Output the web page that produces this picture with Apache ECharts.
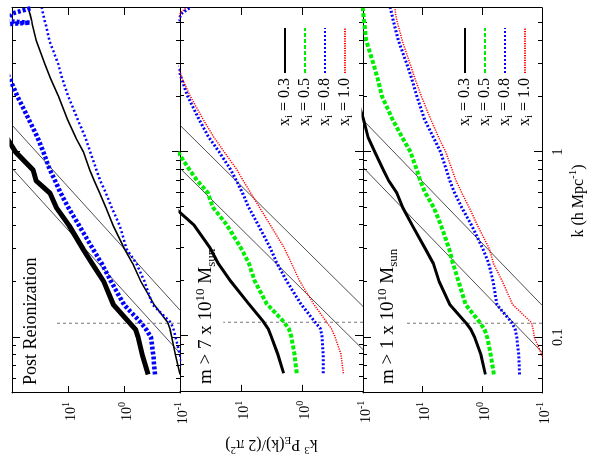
<!DOCTYPE html>
<html><head><meta charset="utf-8">
<script src="https://cdn.jsdelivr.net/npm/echarts@6/dist/echarts.min.js"></script>
<style>
html,body{margin:0;padding:0;background:#fff;overflow:hidden;width:599px;height:463px}
#c{position:absolute;left:0;top:0;width:463px;height:599px;transform-origin:0 0;transform:translate(0,463px) rotate(-90deg);background:#fff}
</style></head><body><div id="c"></div><script>
// ---- data (k in h/Mpc, P = k^3 P_E(k)/(2 pi^2)) ----
const K = [0.063,0.08,0.1,0.11,0.12,0.15,0.2,0.25,0.3,0.4,0.5,0.6,0.7,0.8,1.0,1.2,1.5,2,2.5,3,4,4.9,5,5.1,5.6,6];
// Panel 1: Post Reionization
const P1_THICK_BLACK = [0.37,0.47,0.56,0.62,0.8,1.55,2.3,3.7,5.4,9.5,16,21,37,42,86,125,null,null,null,null,null,null,null,null,null,null];
const P1_THICK_BLUE  = [0.28,0.30,0.33,0.4,0.5,1.0,1.7,2.5,3.6,6.3,9.8,13.5,17,21,27.5,35,50,80,110,150,160,130,48,130,100,45];
const P1_THIN_BLACK  = [0.1,0.12,0.14,0.15,0.165,0.29,0.5,0.7,0.98,1.55,2.1,2.7,3.4,4.1,5.3,7.3,10.2,14.8,20.5,26,37,43.5,44,44.5,48,51];
const P1_THIN_BLUE   = [0.085,0.1,0.12,0.13,0.145,0.31,0.43,0.6,0.9,1.19,1.65,2.1,2.65,3.1,4.0,4.9,6.7,9.9,12.7,15,21.5,25,25.5,26,28,29.5];
// Panel 2: m > 7e10 Msun
const P2_X03 = [2.0,2.5,3.2,3.6,4.3,7.5,15,24,32,59,125,null,null,null,null,null,null,null,null,null,null,null,null,null,null,null];
const P2_X05 = [1.22,1.33,1.5,1.65,2.0,3.8,6.0,7.5,10,17,29,35,53,70,110,null,null,null,null,null,null,null,null,null,null,null];
const P2_X08 = [0.45,0.45,0.47,0.5,0.62,1.05,1.8,2.6,3.3,5.2,7.5,9.5,12,14.8,23,34,49,75,95,115,130,120,110,105,95,70];
const P2_X10 = [0.21,0.23,0.29,0.33,0.4,0.65,1.1,1.5,1.95,3.3,5.0,7.0,9.3,11.7,19,28,42,68,93,115,130,120,110,108,100,80];
// Panel 3: m > 1e10 Msun
const P3_X03 = [0.89,1.05,1.35,1.55,1.9,3.5,5.3,6.6,9.0,14.8,21.5,27,37,45.5,63,82,98,130,null,null,null,null,null,null,null,null];
const P3_X05 = [0.64,0.72,0.83,0.92,1.1,1.9,2.5,3.1,3.6,4.9,6.5,9.0,11,12.5,16,22,32,48,57,67,88,95,95.5,96,99,101];
const P3_X08 = [0.238,0.245,0.265,0.28,0.32,0.57,0.66,0.78,0.98,1.5,2.2,2.9,3.5,4.0,5.0,6.6,9.3,12.5,15.3,18.5,25.5,30,30.5,31,33,35];
const P3_X10 = [0.08,0.1,0.135,0.14,0.15,0.31,0.46,0.65,0.76,1.2,1.65,2.2,2.75,3.2,4.1,5.4,7.3,10.5,13.5,16.3,22,26,26.5,27,28.5,29];
// shot-noise reference lines (endpoints) and k cut
const REF_P = [0.1, 100];
const REF_A_K = [[0.140,1.40],[0.145,1.39],[0.149,1.49]];
const REF_B_K = [[0.082,0.818],[0.0847,0.813],[0.083,0.828]];
const CUT_K = [0.119,0.119];
const CUT_P = [[0.1,17.5],[0.1,19.5],[0.1,18.5]];
// axis ticks
const K_MAJOR = [0.1,1];
const K_MINOR = [0.05,0.06,0.07,0.08,0.09,0.2,0.3,0.4,0.5,0.6,0.7,0.8,0.9,2,3,4,5];
const P_MAJOR = [1,10];
const P_LABELS = [0.1,1,10];
const XI = ['0.3','0.5','0.8','1.0'];
const PANEL_LABELS = ['Post Reionization','{n|m > 7 x 10}{s|10}{n| M}{b|sun}','{n|m > 1 x 10}{s|10}{n| M}{b|sun}'];

const FONT = "'Liberation Serif','Times New Roman',serif";
function rich(F){ const f=Math.round(F*0.7); return {
  n:{fontFamily:FONT,fontSize:F,lineHeight:F,padding:[3,0,0,0],verticalAlign:'top',color:'#000'},
  s:{fontFamily:FONT,fontSize:f,lineHeight:f,padding:[0,0,0,0],verticalAlign:'top',color:'#000'},
  b:{fontFamily:FONT,fontSize:f,lineHeight:f,padding:[Math.round(3+F*0.75-f/2),0,0,0],verticalAlign:'top',color:'#000'}
};}
function pts(ks, ps){ const o=[]; for(let i=0;i<ks.length;i++){ if(ps[i]!=null) o.push([ks[i],ps[i]]); } return o; }

const GRIDS = [{top:12,height:168},{top:180,height:183},{top:363,height:179}];
const grid = GRIDS.map(g=>({left:70,right:8,top:g.top,height:g.height,containLabel:false}));

const xAxis=[]; const yAxis=[];
for(let g=0; g<3; g++){
  const mk = (pos, vals, len, line, lbl) => ({
    type:'log', logBase:10, gridIndex:g, min:0.05, max:6, position:pos, offset:0,
    axisLine:{show:line, lineStyle:{color:'#000',width:1}},
    axisTick:{show:true, inside:true, length:len, customValues:vals, lineStyle:{color:'#000',width:1}},
    axisLabel:{show:lbl, customValues:K_MAJOR, fontFamily:FONT, fontSize:14, color:'#000', margin:9,
      formatter:v=>{ if(Math.abs(v-0.1)<1e-6) return '0.1'; if(Math.abs(v-1)<1e-6) return '1'; return ''; }},
    splitLine:{show:false}, minorTick:{show:false}, minorSplitLine:{show:false}
  });
  xAxis.push(mk('bottom', K_MAJOR, 8, true, g===2), mk('bottom', K_MINOR, 4, false, false), mk('top', K_MAJOR, 8, true, false), mk('top', K_MINOR, 4, false, false));
  const my = (pos, lbl) => ({
    type:'log', logBase:10, gridIndex:g, min:0.1, max:100, position:pos, offset:0,
    axisLine:{show:true, lineStyle:{color:'#000',width:1}},
    axisTick:{show:true, inside:true, length:7, customValues:P_MAJOR, lineStyle:{color:'#000',width:1}},
    axisLabel:{show:lbl, customValues:P_LABELS, margin:9, fontFamily:FONT, fontSize:14, color:'#000', rich:rich(14),
      formatter:v=>{ if(v>50) return ''; const e=Math.round(Math.log10(v)); return '{n|10}{s|'+e+'}'; }},
    splitLine:{show:false}, minorTick:{show:false}
  });
  const ly = my('left', true);
  if(g===1){ ly.name='{n|k}{s|3}{n| P}{b|E}{n|(k)/(2 π}{s|2}{n|)}'; ly.nameLocation='middle'; ly.nameRotate=90; ly.nameGap=37;
    ly.nameTextStyle={fontFamily:FONT,fontSize:16,color:'#000',rich:rich(16)}; }
  yAxis.push(ly, my('right', false));
}

const series=[];
function line(g, name, data, color, width, type, z){
  series.push({type:'line', name:name, xAxisIndex:4*g, yAxisIndex:2*g, data:data, showSymbol:false, symbol:'none',
    clip:true, z:z||2, lineStyle:{color:color, width:width, type:type, cap:'butt'}, itemStyle:{color:color}, emphasis:{disabled:true}});
}
for(let g=0; g<3; g++){
  line(g, 'refA'+g, [[REF_A_K[g][0],REF_P[0]],[REF_A_K[g][1],REF_P[1]]], '#222', 0.8, 'solid', 1);
  line(g, 'refB'+g, [[REF_B_K[g][0],REF_P[0]],[REF_B_K[g][1],REF_P[1]]], '#222', 0.8, 'solid', 1);
  line(g, 'cut'+g, [[CUT_K[0],CUT_P[g][0]],[CUT_K[1],CUT_P[g][1]]], '#777', 1, [3,3], 1);
}
line(0, 'p1 thin black', pts(K,P1_THIN_BLACK), '#000', 1.6, 'solid');
line(0, 'p1 thin blue', pts(K,P1_THIN_BLUE), '#0000ff', 2.5, [2,2.5]);
line(0, 'p1 thick blue', pts(K,P1_THICK_BLUE), '#0000ff', 4.5, [3,2]);
line(0, 'p1 thick black', pts(K,P1_THICK_BLACK), '#000', 5, 'solid');
const NAMES = XI.map(x=>'xi='+x);
const STY = [['#000',3,'solid'],['#00ee00',4,[4,2]],['#0000ff',3,[2,2]],['#ff0000',1.5,[1.2,1.2]]];
[[P2_X03,P2_X05,P2_X08,P2_X10],[P3_X03,P3_X05,P3_X08,P3_X10]].forEach((arrs,j)=>{
  arrs.forEach((a,i)=>line(j+1, NAMES[i], pts(K,a), STY[i][0], STY[i][1], STY[i][2], 3+i));
});

const LEG_RICH = {
  n:{fontFamily:FONT,fontSize:16,lineHeight:16,padding:[0,0,0,0],verticalAlign:'top',color:'#000'},
  b:{fontFamily:FONT,fontSize:11,lineHeight:11,padding:[7,0,0,0],verticalAlign:'top',color:'#000'}
};
const legendBase = {orient:'vertical', right:27, itemWidth:45, itemHeight:14, itemGap:2, align:'right', padding:0,
  selectedMode:false, data:NAMES, itemStyle:{opacity:0},
  formatter:n=>'{n|x}{b|i}{n| = '+n.slice(3)+'}',
  textStyle:{fontFamily:FONT,fontSize:16,color:'#000',rich:LEG_RICH}};

const option = {
  animation:false, backgroundColor:'#fff',
  grid:grid, xAxis:xAxis, yAxis:yAxis, series:series,
  legend:[Object.assign({top:277},legendBase), Object.assign({top:457},legendBase)],
  title:[
    {text:PANEL_LABELS[0], left:78, top:22, padding:0, textStyle:{fontFamily:FONT,fontSize:18,fontWeight:'normal',color:'#000'}},
    {text:PANEL_LABELS[1], left:79, top:194, padding:0, textStyle:{fontFamily:FONT,fontSize:19,fontWeight:'normal',color:'#000',rich:rich(19)}},
    {text:PANEL_LABELS[2], left:79, top:376, padding:0, textStyle:{fontFamily:FONT,fontSize:19,fontWeight:'normal',color:'#000',rich:rich(19)}},
    {text:'{n|k (h Mpc}{s|-1}{n|)}', left:262, top:568, textAlign:'center', padding:0, textStyle:{fontFamily:FONT,fontSize:16,fontWeight:'normal',color:'#000',rich:rich(16)}}
  ]
};
const chart = echarts.init(document.getElementById('c'), null, {renderer:'canvas'});
chart.setOption(option);
</script></body></html>
